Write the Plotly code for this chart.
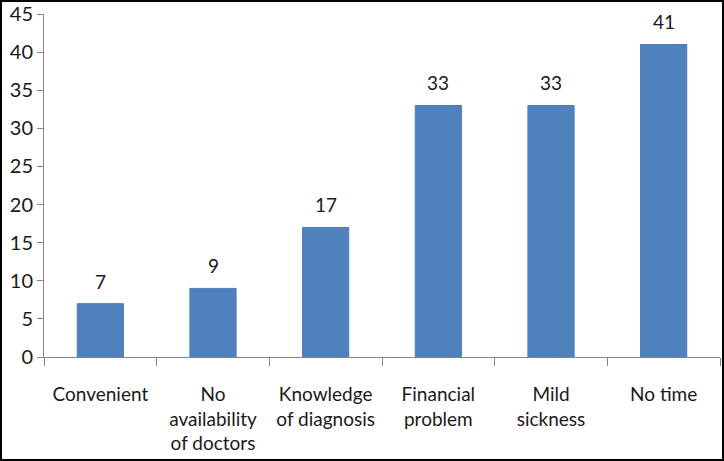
import plotly.graph_objects as go

categories = ["Convenient", "No<br>availability<br>of doctors", "Knowledge<br>of diagnosis",
              "Financial<br>problem", "Mild<br>sickness", "No time"]
values = [7, 9, 17, 33, 33, 41]
y_ticks = [0, 5, 10, 15, 20, 25, 30, 35, 40, 45]

W, H = 724, 461
ML, MR, MT, MB = 44, 4, 14, 104
FONT = "Lato, Open Sans, sans-serif"

fig = go.Figure(go.Bar(
    x=categories, y=values,
    marker=dict(color="#4F81BD", line=dict(color="#4A7EBB", width=1)),
    cliponaxis=False,
))

for c, v in zip(categories, values):
    fig.add_annotation(x=c, y=v, text=str(v), showarrow=False,
                       yanchor="bottom", yshift=9,
                       font=dict(size=19, color="#1a1a1a", family=FONT))

px_w = W - ML - MR
px_h = H - MT - MB
fig.add_shape(type="rect", xref="paper", yref="paper",
              x0=(1 - ML) / px_w, x1=(W - ML - 1) / px_w,
              y0=-(MB - 1) / px_h, y1=(H - MB - 1) / px_h,
              line=dict(color="black", width=2), layer="above")

fig.update_layout(
    width=W, height=H,
    margin=dict(l=ML, r=MR, t=MT, b=MB, autoexpand=False),
    paper_bgcolor="white", plot_bgcolor="white",
    bargap=0.59,
    showlegend=False,
    font=dict(family=FONT, size=19, color="#1a1a1a"),
)
fig.update_xaxes(
    automargin=False,
    showline=True, linecolor="#868686", linewidth=1,
    ticks="outside", tickson="boundaries", ticklen=8, tickcolor="#868686",
    tickfont=dict(size=19, family=FONT, color="#1a1a1a"),
    ticklabelstandoff=20,
    showgrid=False,
)
fig.update_yaxes(
    automargin=False,
    range=[0, 45], tickvals=y_ticks,
    showline=True, linecolor="#868686", linewidth=1,
    ticks="outside", ticklen=6, tickcolor="#868686",
    tickfont=dict(size=20, family=FONT, color="#1a1a1a"),
    showgrid=False, zeroline=False,
)

fig.write_html("out.html", config={"displayModeBar": False},
               post_script="document.body.style.margin='0px';document.body.style.overflow='hidden';")
